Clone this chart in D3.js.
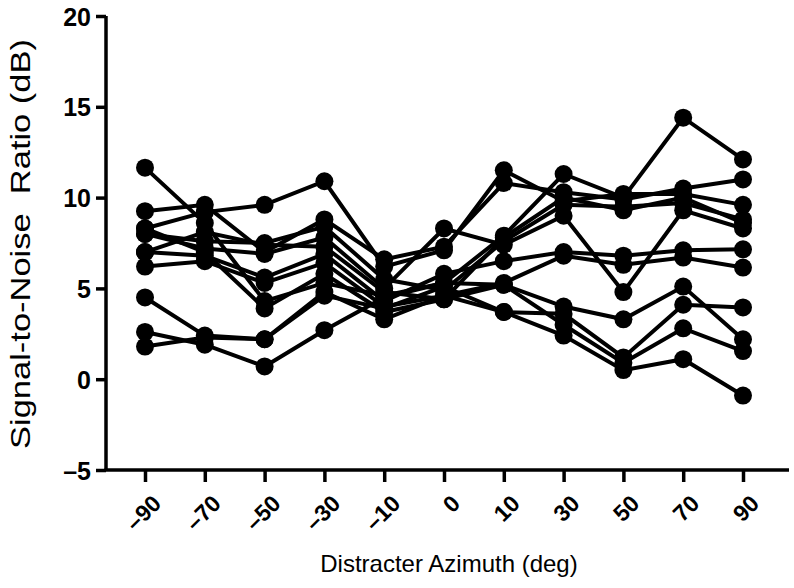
<!DOCTYPE html>
<html>
<head>
<meta charset="utf-8">
<script src="https://cdn.jsdelivr.net/npm/d3@7"></script>
<style>
  body { margin: 0; background: #fff; }
  svg { display: block; }
  .tick-y { font-family: "Liberation Sans", Arial, sans-serif; font-weight: bold; font-size: 25px; }
  .tick-x { font-family: "Liberation Sans", Arial, sans-serif; font-weight: bold; font-size: 23px; }
  .title { font-family: "Liberation Sans", Arial, sans-serif; }
</style>
</head>
<body>
<div id="chart"></div>
<script>
// azimuth categories (deg)
var azimuths = ["–90", "–70", "–50", "–30", "–10", "0", "10", "30", "50", "70", "90"];
var yTicks = [-5, 0, 5, 10, 15, 20];

// one array per listener, SNR in dB at each azimuth
var s1  = [11.65, 8.6, 4.3, 5.3, 4.6, 5.3, 7.9, 11.3, 10.0, 14.4, 12.1];
var s2  = [9.25, 9.6, 7.0, 8.8, 6.6, 7.3, 10.8, 10.3, 9.9, 10.5, 11.0];
var s3  = [8.3, 9.2, 9.6, 10.9, 6.2, 7.1, 11.5, 9.8, 10.2, 10.2, 9.6];
var s4  = [8.0, 7.6, 7.5, 8.4, 5.5, 4.9, 7.6, 9.6, 9.5, 9.7, 8.8];
var s5  = [8.0, 7.2, 6.9, 7.8, 5.0, 8.3, 7.4, 9.0, 4.8, 9.3, 8.3];
var s6  = [7.0, 6.8, 5.6, 6.9, 4.3, 5.8, 6.5, 7.0, 6.8, 7.1, 7.15];
var s7  = [6.2, 6.5, 5.3, 6.4, 4.0, 4.6, 5.3, 6.8, 6.3, 6.7, 6.15];
var s8  = [8.3, 7.0, 3.9, 5.8, 3.7, 4.4, 5.2, 4.0, 3.3, 5.1, 2.2];
var s9  = [4.5, 2.4, 2.2, 4.8, 3.3, 4.6, 3.7, 3.6, 1.2, 4.1, 3.95];
var s10 = [2.6, 1.9, 0.7, 2.7, 4.5, 5.3, 5.2, 3.0, 0.9, 2.8, 1.55];
var s11 = [1.8, 2.3, 2.2, 4.6, 3.9, 5.1, 3.7, 2.4, 0.5, 1.1, -0.9];
var s12 = [7.0, 8.1, 7.4, 7.3, 4.8, 4.4, 7.8, 10.0, 9.3, 10.0, 8.6];

var series = [s1, s2, s3, s4, s5, s6, s7, s8, s9, s10, s11, s12];

var width = 794, height = 588;

var svg = d3.select("#chart").append("svg")
    .attr("width", width)
    .attr("height", height);

var x = d3.scalePoint()
    .domain(azimuths)
    .range([145, 743]);

var y = d3.scaleLinear()
    .domain([-5, 20])
    .range([470, 16]);

// y axis
var yAxis = svg.append("g")
    .attr("transform", "translate(106,0)")
    .call(d3.axisLeft(y).tickValues(yTicks).tickSize(10).tickPadding(5)
      .tickFormat(function(d) { return d < 0 ? "–" + Math.abs(d) : d; }));
yAxis.select(".domain").attr("stroke-width", 3.5).attr("d", "M0," + y(20) + "V" + y(-5));
yAxis.selectAll(".tick line").attr("stroke-width", 3.5);
yAxis.selectAll(".tick text").attr("class", "tick-y").attr("fill", "#000").attr("dy", "0.36em");

// x axis
var xAxis = svg.append("g")
    .attr("transform", "translate(0,470)")
    .call(d3.axisBottom(x).tickSize(12));
xAxis.select(".domain").attr("stroke-width", 3.5).attr("d", "M104.5,0H789");
xAxis.selectAll(".tick line").attr("stroke-width", 3.5);
xAxis.selectAll(".tick text")
    .attr("class", "tick-x")
    .attr("fill", "#000")
    .attr("text-anchor", "end")
    .attr("dy", null)
    .attr("transform", "translate(17,35) rotate(-45)")
    .attr("y", 0)
    .attr("x", 0);

// lines
var line = d3.line()
    .x(function(d, i) { return x(azimuths[i]); })
    .y(function(d) { return y(d); });

svg.selectAll("path.series")
    .data(series)
    .enter()
    .append("path")
    .attr("class", "series")
    .attr("d", line)
    .attr("fill", "none")
    .attr("stroke", "#000")
    .attr("stroke-width", 4);

series.forEach(function(s) {
  svg.append("g").selectAll("circle")
      .data(s)
      .enter()
      .append("circle")
      .attr("cx", function(d, i) { return x(azimuths[i]); })
      .attr("cy", function(d) { return y(d); })
      .attr("r", 9)
      .attr("fill", "#000");
});

// axis titles
svg.append("text")
    .attr("class", "title")
    .attr("x", 449)
    .attr("y", 572)
    .attr("text-anchor", "middle")
    .style("font-size", "24px")
    .text("Distracter Azimuth (deg)");

svg.append("text")
    .attr("class", "title")
    .attr("transform", "translate(30,244) rotate(-90)")
    .attr("text-anchor", "middle")
    .attr("textLength", 410)
    .attr("lengthAdjust", "spacingAndGlyphs")
    .style("font-size", "28px")
    .style("white-space", "pre")
    .text("Signal-to-Noise  Ratio (dB)");
</script>
</body>
</html>
